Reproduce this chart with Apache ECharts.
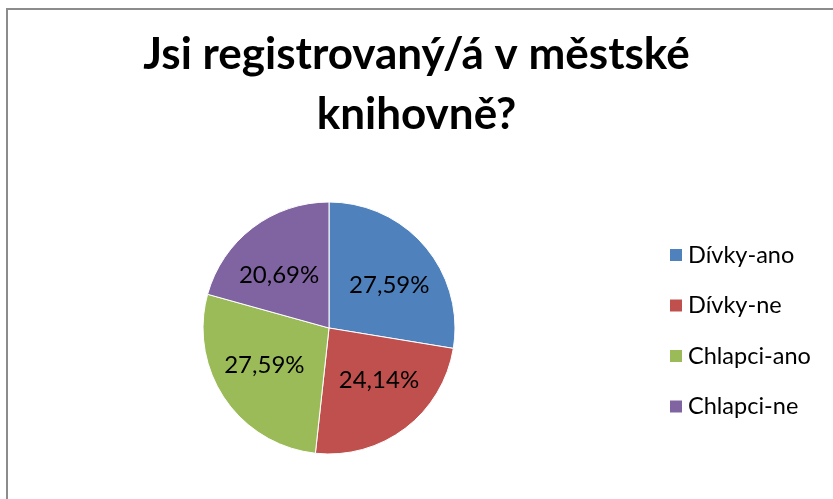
<!DOCTYPE html>
<html>
<head>
<meta charset="utf-8">
<script src="https://cdn.jsdelivr.net/npm/echarts@6/dist/echarts.min.js"></script>
<style>
  html, body { margin: 0; padding: 0; background: #fff; }
  #chart { width: 833px; height: 499px; }
</style>
</head>
<body>
<div id="chart"></div>
<script>
// data (counts out of 29 pupils)
const categories = ['Dívky-ano', 'Dívky-ne', 'Chlapci-ano', 'Chlapci-ne']
const values = [8, 7, 8, 6]
const colors = ['#4F81BD', '#C0504D', '#9BBB59', '#8064A2']
const titleText = 'Jsi registrovaný/á v městské\nknihovně?'

const total = values.reduce((a, b) => a + b, 0)
const pieCx = 329

const chart = echarts.init(document.getElementById('chart'), null, { renderer: 'canvas' })

chart.setOption({
  animation: false,
  backgroundColor: '#fff',
  color: colors,
  title: {
    text: titleText,
    left: 'center',
    top: 20,
    textStyle: {
      fontFamily: 'Lato',
      fontWeight: 'bold',
      fontSize: 44,
      lineHeight: 60,
      color: '#000'
    }
  },
  legend: {
    orient: 'vertical',
    left: 663,
    top: 238,
    icon: 'rect',
    itemWidth: 14,
    itemHeight: 14,
    itemGap: 26.5,
    data: categories,
    textStyle: {
      fontFamily: 'Lato',
      fontSize: 23.5,
      lineHeight: 22,
      color: '#000',
      padding: [0, 0, 0, 0]
    }
  },
  graphic: [
    { type: 'line', shape: { x1: 7, y1: 9, x2: 833, y2: 9 }, style: { stroke: '#8c8c8c', lineWidth: 2 } },
    { type: 'line', shape: { x1: 7, y1: 8, x2: 7, y2: 499 }, style: { stroke: '#8c8c8c', lineWidth: 2 } }
  ],
  series: [
    {
      type: 'pie',
      center: [pieCx, 328],
      radius: 126,
      startAngle: 90,
      clockwise: true,
      itemStyle: { borderColor: '#fff', borderWidth: 1 },
      label: {
        position: 'inside',
        fontFamily: 'Lato',
        fontSize: 24,
        color: '#000',
        formatter: function (p) {
          return (p.value / total * 100).toFixed(2).replace('.', ',') + '%'
        }
      },
      // excel pushes the labels a bit outwards horizontally
      labelLayout: function (params) {
        const mid = params.labelRect.x + params.labelRect.width / 2
        return { dx: mid > pieCx ? 10 : -10 }
      },
      labelLine: { show: false },
      emphasis: { disabled: true },
      data: categories.map((name, i) => ({ name: name, value: values[i] }))
    }
  ]
})
</script>
</body>
</html>
